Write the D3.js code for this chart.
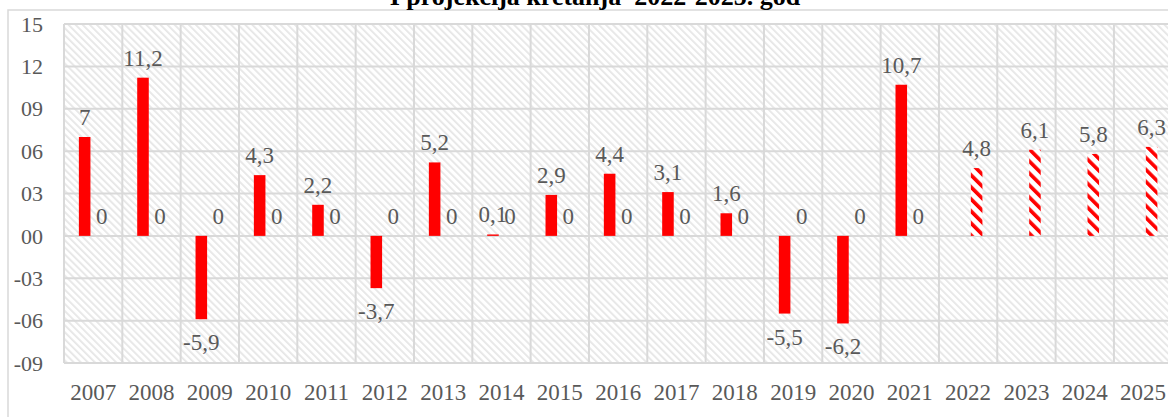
<!DOCTYPE html>
<html>
<head>
<meta charset="utf-8">
<script src="https://cdn.jsdelivr.net/npm/d3@7"></script>
<style>
  body { margin: 0; background: #fff; }
  svg { display: block; font-family: "Liberation Serif", "Times New Roman", serif; }
</style>
</head>
<body>
<div id="chart"></div>
<script>
// data
const years = ["2007", "2008", "2009", "2010", "2011", "2012", "2013", "2014", "2015", "2016",
  "2017", "2018", "2019", "2020", "2021", "2022", "2023", "2024", "2025"];
const actual = [7, 11.2, -5.9, 4.3, 2.2, -3.7, 5.2, 0.1, 2.9, 4.4, 3.1, 1.6, -5.5, -6.2, 10.7,
  null, null, null, null];
const projection = [0, 0, 0, 0, 0, 0, 0, 0, 0, 0, 0, 0, 0, 0, 0, 4.8, 6.1, 5.8, 6.3];
const yTicks = [-9, -6, -3, 0, 3, 6, 9, 12, 15];
const title = "I projekcija kretanja  2022-2025. god";

const width = 1168, height = 417;
const plot = { left: 64, top: 24, bottom: 363, step: 58.33 };

const svg = d3.select("#chart").append("svg")
  .attr("width", width)
  .attr("height", height);

const defs = svg.append("defs");

// light diagonal hatch for the plot background
defs.append("pattern")
  .attr("id", "bgHatch")
  .attr("patternUnits", "userSpaceOnUse")
  .attr("width", 5).attr("height", 5)
  .attr("patternTransform", "rotate(-45)")
  .append("rect")
  .attr("width", 1.8).attr("height", 5)
  .attr("fill", "#e6e6e6");

// red hatch for projected bars
const redHatch = defs.append("pattern")
  .attr("id", "redHatch")
  .attr("patternUnits", "userSpaceOnUse")
  .attr("width", 8.5).attr("height", 8.5)
  .attr("patternTransform", "rotate(-45)");
redHatch.append("rect").attr("width", 8.5).attr("height", 8.5).attr("fill", "#fff");
redHatch.append("rect").attr("width", 3.6).attr("height", 8.5).attr("fill", "#ff0000");

// outer chart border (cropped in the picture)
svg.append("rect")
  .attr("x", 8).attr("y", 10)
  .attr("width", width + 20).attr("height", height + 20)
  .attr("fill", "#fff")
  .attr("stroke", "#d9d9d9")
  .attr("stroke-width", 1.5);

svg.append("text")
  .attr("x", 595).attr("y", 5)
  .attr("text-anchor", "middle")
  .attr("font-size", 26)
  .attr("font-weight", "bold")
  .attr("fill", "#000")
  .style("white-space", "pre")
  .text(title);

const x = d3.scaleBand()
  .domain(years)
  .range([plot.left, plot.left + plot.step * years.length]);

const series = ["actual", "projection"];
const x1 = d3.scaleBand()
  .domain(series)
  .range([x.bandwidth() * 0.255, x.bandwidth() * 0.745])
  .paddingInner(0.32);

const y = d3.scaleLinear()
  .domain([-9, 15])
  .range([plot.bottom, plot.top]);

// plot background
svg.append("rect")
  .attr("x", x.range()[0]).attr("y", y(15))
  .attr("width", x.range()[1] - x.range()[0])
  .attr("height", y(-9) - y(15))
  .attr("fill", "url(#bgHatch)");

// gridlines
const grid = svg.append("g").attr("stroke", "#d9d9d9").attr("stroke-width", 2);
grid.selectAll("line.h")
  .data(yTicks)
  .join("line")
  .attr("class", "h")
  .attr("x1", x.range()[0]).attr("x2", x.range()[1])
  .attr("y1", (d) => y(d)).attr("y2", (d) => y(d));
grid.selectAll("line.v")
  .data(d3.range(years.length + 1))
  .join("line")
  .attr("class", "v")
  .attr("x1", (i) => x.range()[0] + i * x.step())
  .attr("x2", (i) => x.range()[0] + i * x.step())
  .attr("y1", y(15)).attr("y2", y(-9));

// y axis labels
const fmtTick = (d) => (d < 0 ? "-" : "") + String(Math.abs(d)).padStart(2, "0");
svg.append("g")
  .selectAll("text")
  .data(yTicks)
  .join("text")
  .attr("x", 43)
  .attr("y", (d) => y(d))
  .attr("dy", "0.35em")
  .attr("text-anchor", "end")
  .attr("font-size", 22)
  .attr("fill", "#595959")
  .text(fmtTick);

// x axis labels
svg.append("g")
  .selectAll("text")
  .data(years)
  .join("text")
  .attr("x", (d) => x(d) + x.bandwidth() / 2)
  .attr("y", 400)
  .attr("text-anchor", "middle")
  .attr("font-size", 23)
  .attr("fill", "#595959")
  .text((d) => d);

// bars
const points = [];
years.forEach((yr, i) => {
  if (actual[i] !== null) points.push({ year: yr, key: "actual", value: actual[i] });
  if (projection[i] !== null) points.push({ year: yr, key: "projection", value: projection[i], proj: i >= 15 });
});

svg.append("g")
  .selectAll("rect")
  .data(points.filter((d) => d.value !== 0))
  .join("rect")
  .attr("x", (d) => x(d.year) + x1(d.key))
  .attr("width", x1.bandwidth())
  .attr("y", (d) => y(Math.max(0, d.value)))
  .attr("height", (d) => Math.abs(y(d.value) - y(0)))
  .attr("fill", (d) => (d.proj ? "url(#redHatch)" : "#ff0000"));

// data labels
const fmtVal = (v) => String(v).replace(".", ",");
svg.append("g")
  .selectAll("text")
  .data(points)
  .join("text")
  .attr("x", (d) => x(d.year) + x1(d.key) + x1.bandwidth() / 2)
  .attr("y", (d) => (d.value < 0 ? y(d.value) + 31 : y(d.value) - 12))
  .attr("text-anchor", "middle")
  .attr("font-size", 23)
  .attr("fill", "#595959")
  .text((d) => fmtVal(d.value));
</script>
</body>
</html>
